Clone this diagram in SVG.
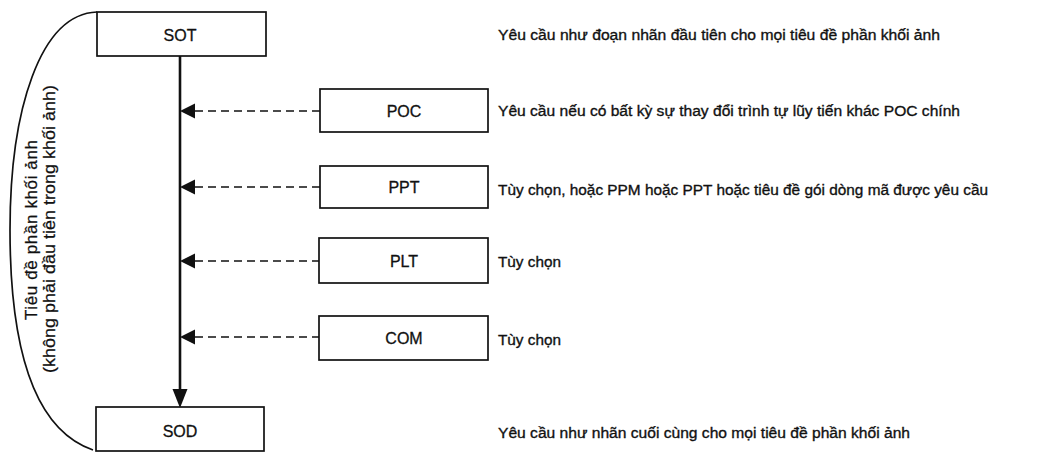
<svg xmlns="http://www.w3.org/2000/svg" width="1055" height="453" viewBox="0 0 1055 453">
  <style>
    .box { fill: #fff; stroke: #111; stroke-width: 1.7; }
    .lbl { font-family: "Liberation Sans", Arial, sans-serif; font-size: 16px; fill: #111; stroke: #111; stroke-width: 0.3; text-anchor: middle; }
    .note { font-family: "Liberation Sans", Arial, sans-serif; font-size: 15.5px; fill: #111; stroke: #111; stroke-width: 0.35; }
    .side { font-family: "Liberation Sans", Arial, sans-serif; font-size: 17px; fill: #111; stroke: #111; stroke-width: 0.25; text-anchor: middle; }
    .main { stroke: #111; stroke-width: 2.6; fill: none; }
    .dash { stroke: #111; stroke-width: 1.7; stroke-dasharray: 8 5; fill: none; }
    .head { fill: #111; }
  </style>

  <!-- brace-like curve spanning the header sequence -->
  <path d="M 97,12 C 40,14 10,110 10,230 C 10,350 35,430 93,450" fill="none" stroke="#111" stroke-width="1.7"/>
  <g transform="translate(37,230) rotate(-90)">
    <text class="side" x="0" y="0" textLength="180" lengthAdjust="spacing">Tiêu đề phần khối ảnh</text>
  </g>
  <g transform="translate(55,229) rotate(-90)">
    <text class="side" x="0" y="0" textLength="288" lengthAdjust="spacingAndGlyphs">(không phải đầu tiên trong khối ảnh)</text>
  </g>

  <!-- connectors -->
  <g id="connectors">
    <line class="main" x1="180" y1="56" x2="180" y2="392"/>
    <polygon class="head" points="172.5,389 187.5,389 180,408"/>
    <line class="dash" x1="320" y1="111" x2="192" y2="111"/>
    <polygon class="head" points="180,111 195,103.5 195,118.5"/>
    <line class="dash" x1="320" y1="187" x2="192" y2="187"/>
    <polygon class="head" points="180,187 195,179.5 195,194.5"/>
    <line class="dash" x1="320" y1="261" x2="192" y2="261"/>
    <polygon class="head" points="180,261 195,253.5 195,268.5"/>
    <line class="dash" x1="320" y1="337" x2="192" y2="337"/>
    <polygon class="head" points="180,337 195,329.5 195,344.5"/>
  </g>

  <g id="node-sot">
    <rect class="box" x="97" y="12" width="169" height="44"/>
    <text class="lbl" x="180" y="41">SOT</text>
  </g>
  <g id="node-poc">
    <rect class="box" x="320" y="89" width="168" height="43"/>
    <text class="lbl" x="404" y="117">POC</text>
  </g>
  <g id="node-ppt">
    <rect class="box" x="320" y="166" width="168" height="42"/>
    <text class="lbl" x="404" y="193">PPT</text>
  </g>
  <g id="node-plt">
    <rect class="box" x="319" y="238" width="169" height="45"/>
    <text class="lbl" x="404" y="267">PLT</text>
  </g>
  <g id="node-com">
    <rect class="box" x="319" y="316" width="169" height="44"/>
    <text class="lbl" x="404" y="344">COM</text>
  </g>
  <g id="node-sod">
    <rect class="box" x="96" y="407" width="168" height="44"/>
    <text class="lbl" x="180" y="437">SOD</text>
  </g>

  <!-- descriptions -->
  <g id="notes">
    <text class="note" x="498" y="40" textLength="442" lengthAdjust="spacingAndGlyphs">Yêu cầu như đoạn nhãn đầu tiên cho mọi tiêu đề phần khối ảnh</text>
    <text class="note" x="498" y="116" textLength="462" lengthAdjust="spacingAndGlyphs">Yêu cầu nếu có bất kỳ sự thay đổi trình tự lũy tiến khác POC chính</text>
    <text class="note" x="498" y="195" textLength="490" lengthAdjust="spacingAndGlyphs">Tùy chọn, hoặc PPM hoặc PPT hoặc tiêu đề gói dòng mã được yêu cầu</text>
    <text class="note" x="498" y="267" textLength="63" lengthAdjust="spacingAndGlyphs">Tùy chọn</text>
    <text class="note" x="498" y="345" textLength="63" lengthAdjust="spacingAndGlyphs">Tùy chọn</text>
    <text class="note" x="498" y="438" textLength="412" lengthAdjust="spacingAndGlyphs">Yêu cầu như nhãn cuối cùng cho mọi tiêu đề phần khối ảnh</text>
  </g>
</svg>
